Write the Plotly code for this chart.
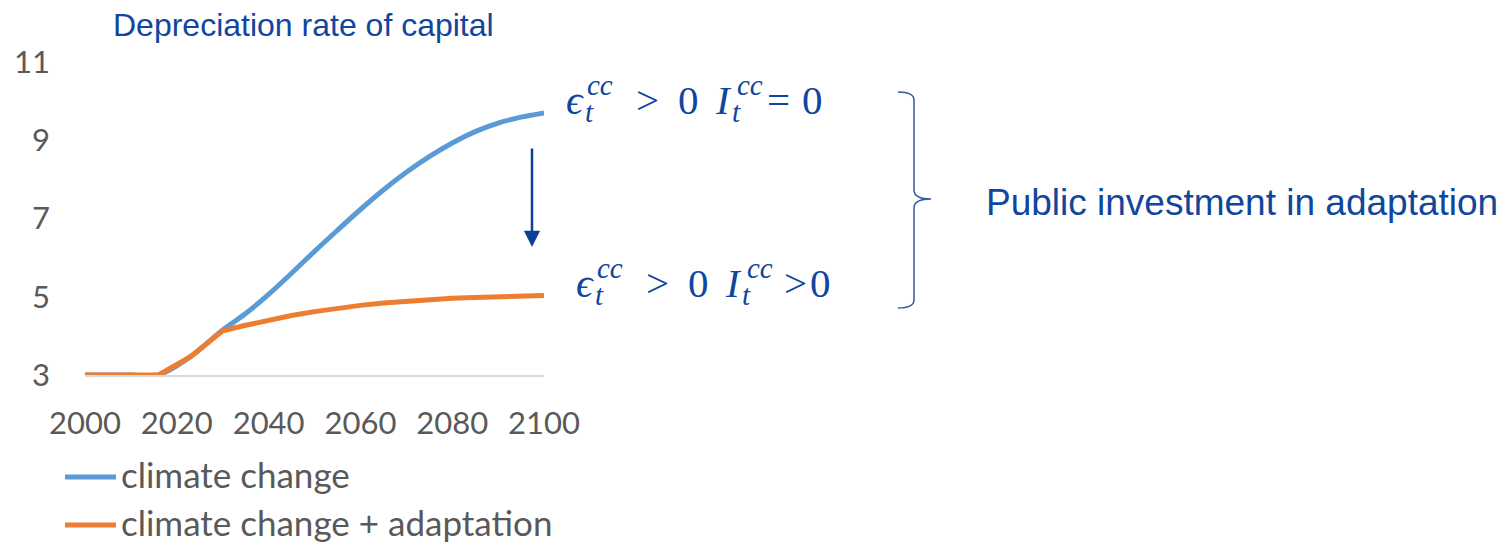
import plotly.graph_objects as go

# ---- data ----
years_cc = [2000, 2005, 2010, 2016, 2023, 2030, 2035, 2040, 2045, 2050, 2055, 2060,
            2065, 2070, 2075, 2080, 2085, 2090, 2095, 2100]
climate_change = [3.0, 3.0, 3.0, 3.0, 3.47, 4.15, 4.57, 5.06, 5.60, 6.16, 6.70, 7.23,
                  7.73, 8.18, 8.58, 8.93, 9.22, 9.44, 9.59, 9.70]
years_ad = [2000, 2005, 2010, 2016, 2023, 2030, 2035, 2040, 2045, 2050, 2055, 2060,
            2065, 2070, 2075, 2080, 2085, 2090, 2095, 2100]
climate_adapt = [3.0, 3.0, 3.0, 3.0, 3.47, 4.13, 4.27, 4.40, 4.52, 4.62, 4.71, 4.78,
                 4.84, 4.89, 4.93, 4.96, 4.98, 5.00, 5.02, 5.03]
series_names = ["climate change", "climate change + adaptation"]
x_ticks = [2000, 2020, 2040, 2060, 2080, 2100]
y_ticks = [3, 5, 7, 9, 11]

# ---- styling ----
BLUE = "#5B9BD5"
ORANGE = "#ED7D31"
TXT = "#10469E"
GRAY = "#595959"
W, H = 1506, 543
ML, MR, MT, MB = 85, W - 544, 62, H - 375

def fx(px):
    return (px - ML) / (W - ML - MR)

def fy(py):
    return (H - MB - py) / (H - MT - MB)

fig = go.Figure()
fig.add_trace(go.Scatter(x=years_cc, y=climate_change, mode="lines", name=series_names[0],
                         line=dict(color=BLUE, width=5, shape="spline", smoothing=0.8),
                         showlegend=False))
fig.add_trace(go.Scatter(x=years_ad, y=climate_adapt, mode="lines", name=series_names[1],
                         line=dict(color=ORANGE, width=5), showlegend=False))

annotations = []
shapes = []

def text(s, px, baseline, size, family, color, k, anchor="left"):
    annotations.append(dict(xref="paper", yref="paper", x=fx(px), y=fy(baseline - k * size),
                            xanchor=anchor, yanchor="middle", text=s, showarrow=False,
                            borderpad=0,
                            font=dict(size=size, family=family, color=color)))

SERIF = "Liberation Serif, DejaVu Serif, serif"
SANS = "Liberation Sans, Arial, sans-serif"
LATO = "Lato, Open Sans, sans-serif"
KS, KA, KL = 0.3375, 0.3465, 0.387

# title
text("Depreciation rate of capital", 112, 36, 32, SANS, TXT, KA)
# right label
text("Public investment in adaptation", 985, 215, 37, SANS, TXT, KA)

# math labels
def math_line(base, parts):
    for s, px, kind in parts:
        if kind == "main":
            text(s, px, base, 41, SERIF, TXT, KS)
        elif kind == "sup":
            text(s, px, base - 19, 29, SERIF, TXT, KS)
        else:
            text(s, px, base + 8, 29, SERIF, TXT, KS)

math_line(114, [("<i>ϵ</i>", 565, "main"), ("<i>cc</i>", 586, "sup"), ("<i>t</i>", 584, "sub"),
                (">", 635, "main"), ("0", 677, "main"),
                ("<i>I</i>", 714, "main"), ("<i>cc</i>", 736, "sup"), ("<i>t</i>", 731, "sub"),
                ("=", 766, "main"), ("0", 801, "main")])
math_line(297, [("<i>ϵ</i>", 575, "main"), ("<i>cc</i>", 596, "sup"), ("<i>t</i>", 594, "sub"),
                (">", 645, "main"), ("0", 687, "main"),
                ("<i>I</i>", 724, "main"), ("<i>cc</i>", 746, "sup"), ("<i>t</i>", 741, "sub"),
                (">", 783, "main"), ("0", 809, "main")])

# arrow
annotations.append(dict(xref="paper", yref="paper", axref="pixel", ayref="pixel",
                        x=fx(532), y=fy(247), ax=0, ay=-100, text="",
                        showarrow=True, arrowhead=2, arrowsize=1.3, arrowwidth=2.5,
                        arrowcolor="#0E3F96"))

# brace
def P(px, py):
    return f"{fx(px):.5f},{fy(py):.5f}"

brace = (f"M{P(898, 92)} Q{P(914, 92)} {P(914, 100)} L{P(914, 190)} "
         f"Q{P(914, 199)} {P(931, 199)} Q{P(914, 199)} {P(914, 208)} "
         f"L{P(914, 300)} Q{P(914, 308)} {P(898, 308)}")
shapes.append(dict(type="path", xref="paper", yref="paper", path=brace,
                   line=dict(color="#2F5BA8", width=1.5)))

# legend (manual)
for name, col, ly, base in [(series_names[0], BLUE, 477, 488), (series_names[1], ORANGE, 525, 536)]:
    shapes.append(dict(type="line", xref="paper", yref="paper", x0=fx(65), x1=fx(116),
                       y0=fy(ly), y1=fy(ly), line=dict(color=col, width=5)))
    text(name, 120, base, 35, LATO, GRAY, KL)

fig.update_layout(
    width=W, height=H, margin=dict(l=ML, r=MR, t=MT, b=MB, pad=0),
    paper_bgcolor="white", plot_bgcolor="white",
    annotations=annotations, shapes=shapes, showlegend=False,
    xaxis=dict(range=[2000, 2100], tickvals=x_ticks, ticktext=[str(v) for v in x_ticks],
               showgrid=False, zeroline=False, showline=True, linecolor="#D9D9D9", linewidth=1.5,
               ticks="", ticklabelstandoff=20,
               tickfont=dict(family=LATO, size=31, color=GRAY)),
    yaxis=dict(range=[3, 11], tickvals=y_ticks, ticktext=[str(v) for v in y_ticks],
               showgrid=False, zeroline=False, showline=False,
               ticks="", ticklabelstandoff=34,
               tickfont=dict(family=LATO, size=31, color=GRAY)),
)

fig.write_html("out.html", config={"displayModeBar": False},
               post_script="document.body.style.margin='0';")
